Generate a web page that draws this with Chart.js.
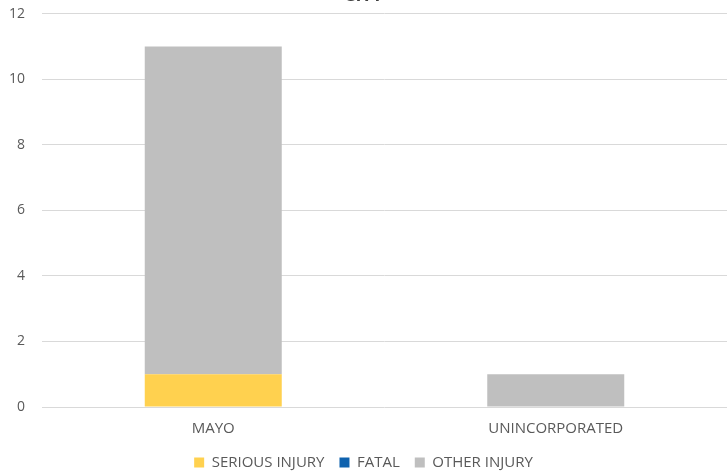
<!DOCTYPE html>
<html>
<head>
<meta charset="utf-8">
<script src="https://cdn.jsdelivr.net/npm/chart.js@4"></script>
<style>
    html, body { margin: 0; padding: 0; background: #fff; }
    #wrap { position: relative; width: 727px; height: 474px; overflow: hidden; }
    #chart { position: absolute; left: 0; top: -26px; }
</style>
</head>
<body>
<div id="wrap"><canvas id="chart" width="727" height="500"></canvas></div>
<script>
// Crash counts by location
const categories = ['MAYO', 'UNINCORPORATED'];
const seriousInjury = [1, 0];
const fatal = [0, 0];
const otherInjury = [10, 1];
const yTicks = [0, 2, 4, 6, 8, 10, 12];

const ctx = document.getElementById('chart').getContext('2d');

new Chart(ctx, {
    type: 'bar',
    data: {
        labels: categories,
        datasets: [{
            label: 'SERIOUS INJURY',
            data: seriousInjury,
            backgroundColor: '#FFD14F'
        }, {
            label: 'FATAL',
            data: fatal,
            backgroundColor: '#0F62AE'
        }, {
            label: 'OTHER INJURY',
            data: otherInjury,
            backgroundColor: '#BFBFBF'
        }]
    },
    options: {
        responsive: false,
        animation: false,
        layout: {
            padding: { left: 0, right: 0, top: 0, bottom: -6 }
        },
        datasets: {
            bar: { categoryPercentage: 1.0, barPercentage: 0.4 }
        },
        scales: {
            x: {
                stacked: true,
                grid: { display: false },
                border: { display: false },
                afterFit: function(axis) {
                    axis.height -= 3;
                },
                ticks: {
                    color: '#595959',
                    font: { family: 'Open Sans', size: 15 },
                    padding: 5
                }
            },
            y: {
                stacked: true,
                min: 0,
                max: 12,
                afterBuildTicks: function(axis) {
                    axis.ticks = yTicks.map(v => ({ value: v }));
                },
                afterFit: function(axis) {
                    axis.width = 42;
                },
                grid: { color: '#D9D9D9', lineWidth: 1, drawTicks: false },
                border: { display: false },
                ticks: {
                    color: '#595959',
                    font: { family: 'Open Sans', size: 14 },
                    padding: 17
                }
            }
        },
        plugins: {
            title: {
                display: true,
                text: 'CITY',
                color: '#404040',
                font: { family: 'Open Sans', size: 18, weight: 'bold' },
                padding: { top: 11, bottom: 7 }
            },
            legend: {
                position: 'bottom',
                labels: {
                    color: '#595959',
                    font: { family: 'Open Sans', size: 15 },
                    boxWidth: 10,
                    boxHeight: 10,
                    padding: 15
                }
            },
            tooltip: { enabled: false }
        }
    }
});
</script>
</body>
</html>
